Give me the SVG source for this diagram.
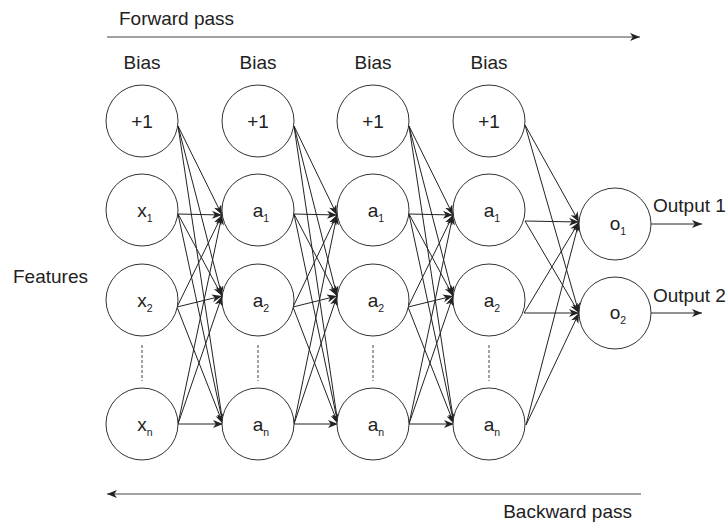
<svg xmlns="http://www.w3.org/2000/svg" width="727" height="523" viewBox="0 0 727 523">
<defs>
<marker id="arr" markerUnits="userSpaceOnUse" markerWidth="11" markerHeight="9" refX="10" refY="4" orient="auto">
<path d="M0,0 L10,4 L0,8 L2.8,4 Z" fill="#222"/>
</marker>
<style>
.n circle{fill:#fff;stroke:#333;stroke-width:1}
text{font-family:"Liberation Sans",Arial,sans-serif;font-size:19px;fill:#222}
.c{text-anchor:middle}
.s{font-size:10.5px}
.e line{stroke:#222;stroke-width:1;marker-end:url(#arr)}
.d{stroke:#444;stroke-width:1;stroke-dasharray:3 2}
.p{stroke:#444;stroke-width:1.2;fill:none}
</style>
</defs>
<rect width="727" height="523" fill="#fff"/>

<g id="labels">
<text x="119" y="25">Forward pass</text>
<text x="632" y="518" text-anchor="end">Backward pass</text>
<text x="13" y="283">Features</text>
<text class="c" x="142" y="69">Bias</text>
<text class="c" x="258" y="69">Bias</text>
<text class="c" x="373" y="69">Bias</text>
<text class="c" x="489" y="69">Bias</text>
<text x="653" y="212">Output 1</text>
<text x="653" y="302">Output 2</text>
</g>

<g id="passes">
<line class="p" x1="107" y1="37" x2="640" y2="37" marker-end="url(#arr)"/>
<line class="p" x1="641" y1="494" x2="107" y2="494" marker-end="url(#arr)"/>
</g>

<g id="connectors" class="e">
<line x1="178" y1="126" x2="222" y2="215"/><line x1="178" y1="126" x2="222" y2="296"/><line x1="178" y1="126" x2="223" y2="424"/>
<line x1="178" y1="214" x2="222" y2="215"/><line x1="178" y1="214" x2="222" y2="296"/><line x1="178" y1="214" x2="223" y2="424"/>
<line x1="177" y1="307" x2="222" y2="215"/><line x1="177" y1="307" x2="222" y2="296"/><line x1="177" y1="307" x2="223" y2="424"/>
<line x1="178" y1="424" x2="222" y2="215"/><line x1="178" y1="424" x2="222" y2="296"/><line x1="178" y1="424" x2="223" y2="424"/>
<line x1="294" y1="126" x2="337" y2="215"/><line x1="294" y1="126" x2="337" y2="296"/><line x1="294" y1="126" x2="338" y2="424"/>
<line x1="294" y1="214" x2="337" y2="215"/><line x1="294" y1="214" x2="337" y2="296"/><line x1="294" y1="214" x2="338" y2="424"/>
<line x1="293" y1="307" x2="337" y2="215"/><line x1="293" y1="307" x2="337" y2="296"/><line x1="293" y1="307" x2="338" y2="424"/>
<line x1="294" y1="424" x2="337" y2="215"/><line x1="294" y1="424" x2="337" y2="296"/><line x1="294" y1="424" x2="338" y2="424"/>
<line x1="409" y1="126" x2="453" y2="215"/><line x1="409" y1="126" x2="453" y2="296"/><line x1="409" y1="126" x2="454" y2="424"/>
<line x1="409" y1="214" x2="453" y2="215"/><line x1="409" y1="214" x2="453" y2="296"/><line x1="409" y1="214" x2="454" y2="424"/>
<line x1="408" y1="307" x2="453" y2="215"/><line x1="408" y1="307" x2="453" y2="296"/><line x1="408" y1="307" x2="454" y2="424"/>
<line x1="409" y1="424" x2="453" y2="215"/><line x1="409" y1="424" x2="453" y2="296"/><line x1="409" y1="424" x2="454" y2="424"/>
<line x1="525" y1="125" x2="579" y2="222"/><line x1="525" y1="125" x2="579" y2="313"/>
<line x1="525" y1="221" x2="579" y2="222"/><line x1="525" y1="221" x2="579" y2="313"/>
<line x1="524" y1="313" x2="579" y2="222"/><line x1="524" y1="313" x2="579" y2="313"/>
<line x1="526" y1="425" x2="579" y2="222"/><line x1="526" y1="425" x2="579" y2="313"/>
<line x1="651" y1="224" x2="702" y2="224"/>
<line x1="651" y1="313" x2="702" y2="313"/>
</g>

<g id="dots">
<line class="d" x1="142" y1="345" x2="142" y2="381"/>
<line class="d" x1="258" y1="345" x2="258" y2="381"/>
<line class="d" x1="373" y1="345" x2="373" y2="381"/>
<line class="d" x1="489" y1="345" x2="489" y2="381"/>
</g>

<g id="b0" class="n"><circle cx="142" cy="121" r="36"/><text class="c" x="142" y="128">+1</text></g>
<g id="b1" class="n"><circle cx="258" cy="121" r="36"/><text class="c" x="258" y="128">+1</text></g>
<g id="b2" class="n"><circle cx="373" cy="121" r="36"/><text class="c" x="373" y="128">+1</text></g>
<g id="b3" class="n"><circle cx="489" cy="121" r="36"/><text class="c" x="489" y="128">+1</text></g>

<g id="x1" class="n"><circle cx="142" cy="210" r="36"/><text class="c" x="145" y="217">x<tspan class="s" dy="5">1</tspan></text></g>
<g id="x2" class="n"><circle cx="142" cy="300" r="36"/><text class="c" x="145" y="307">x<tspan class="s" dy="5">2</tspan></text></g>
<g id="xn" class="n"><circle cx="142" cy="424" r="36"/><text class="c" x="145" y="431">x<tspan class="s" dy="5">n</tspan></text></g>

<g id="a11" class="n"><circle cx="258" cy="210" r="36"/><text class="c" x="261" y="217">a<tspan class="s" dy="5">1</tspan></text></g>
<g id="a12" class="n"><circle cx="258" cy="300" r="36"/><text class="c" x="261" y="307">a<tspan class="s" dy="5">2</tspan></text></g>
<g id="a1n" class="n"><circle cx="258" cy="424" r="36"/><text class="c" x="261" y="431">a<tspan class="s" dy="5">n</tspan></text></g>

<g id="a21" class="n"><circle cx="373" cy="210" r="36"/><text class="c" x="376" y="217">a<tspan class="s" dy="5">1</tspan></text></g>
<g id="a22" class="n"><circle cx="373" cy="300" r="36"/><text class="c" x="376" y="307">a<tspan class="s" dy="5">2</tspan></text></g>
<g id="a2n" class="n"><circle cx="373" cy="424" r="36"/><text class="c" x="376" y="431">a<tspan class="s" dy="5">n</tspan></text></g>

<g id="a31" class="n"><circle cx="489" cy="210" r="36"/><text class="c" x="492" y="217">a<tspan class="s" dy="5">1</tspan></text></g>
<g id="a32" class="n"><circle cx="489" cy="300" r="36"/><text class="c" x="492" y="307">a<tspan class="s" dy="5">2</tspan></text></g>
<g id="a3n" class="n"><circle cx="489" cy="424" r="36"/><text class="c" x="492" y="431">a<tspan class="s" dy="5">n</tspan></text></g>

<g id="o1" class="n"><circle cx="615" cy="224" r="36"/><text class="c" x="618" y="230">o<tspan class="s" dy="5">1</tspan></text></g>
<g id="o2" class="n"><circle cx="615" cy="313" r="36"/><text class="c" x="618" y="319">o<tspan class="s" dy="5">2</tspan></text></g>
</svg>
